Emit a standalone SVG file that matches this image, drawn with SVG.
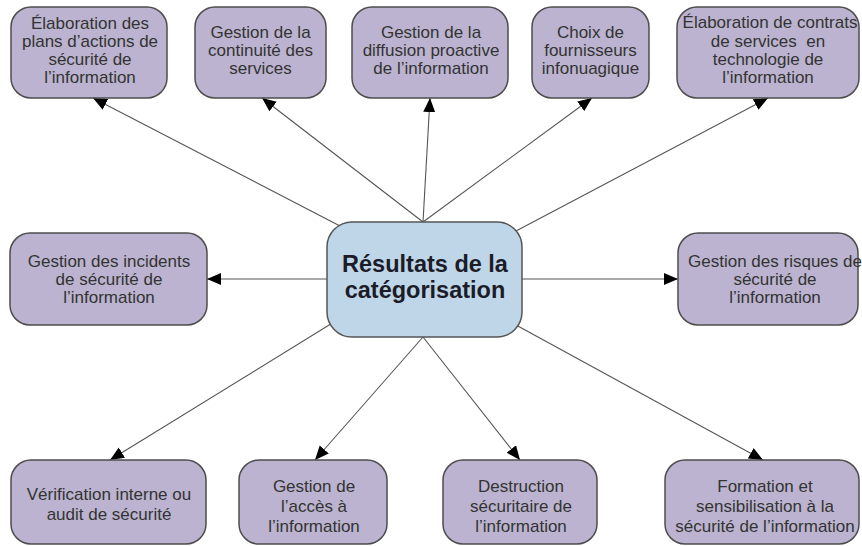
<svg xmlns="http://www.w3.org/2000/svg" width="862" height="546" viewBox="0 0 862 546">
<defs>
<marker id="arr" markerUnits="userSpaceOnUse" markerWidth="15" markerHeight="13" refX="14" refY="6" orient="auto">
<path d="M0,0 L14,6 L0,12 z" fill="#000"/>
</marker>
<style>
.n{fill:#bbb3cf;stroke:#4d4d4d;stroke-width:1.5}
.c{fill:#bed6e8;stroke:#555;stroke-width:1.5}
.t{font-family:"Liberation Sans",Arial,sans-serif;font-size:17px;fill:#333;text-anchor:middle}
.ct{font-family:"Liberation Sans",Arial,sans-serif;font-size:23.5px;font-weight:bold;fill:#1c1c28;text-anchor:middle}
.e{stroke:#555;stroke-width:1.1;fill:none;marker-end:url(#arr)}
</style>
</defs>
<rect width="862" height="546" fill="#fff"/>
<g id="connectors">
<line class="e" x1="340" y1="226" x2="93" y2="98"/>
<line class="e" x1="423" y1="222" x2="262" y2="98"/>
<line class="e" x1="423" y1="222" x2="430" y2="98"/>
<line class="e" x1="423" y1="222" x2="592" y2="98"/>
<line class="e" x1="516" y1="231" x2="768" y2="98"/>
<line class="e" x1="327" y1="279" x2="207" y2="279"/>
<line class="e" x1="522" y1="279" x2="678" y2="279"/>
<line class="e" x1="334" y1="322" x2="110" y2="460"/>
<line class="e" x1="423" y1="337" x2="315" y2="460"/>
<line class="e" x1="423" y1="337" x2="520" y2="460"/>
<line class="e" x1="516" y1="325" x2="763" y2="460"/>
</g>
<g id="center">
<rect class="c" x="327" y="222" width="195" height="115" rx="25"/>
<text class="ct" x="425" y="272">Résultats de la</text>
<text class="ct" x="425" y="298">catégorisation</text>
</g>
<g id="n1">
<rect class="n" x="11" y="7" width="156" height="91" rx="20"/>
<text class="t" x="90" y="29">Élaboration des</text>
<text class="t" x="90" y="47">plans d’actions de</text>
<text class="t" x="90" y="65">sécurité de</text>
<text class="t" x="90" y="83">l’information</text>
</g>
<g id="n2">
<rect class="n" x="195" y="7" width="131" height="91" rx="20"/>
<text class="t" x="260.5" y="38">Gestion de la</text>
<text class="t" x="260.5" y="56">continuité des</text>
<text class="t" x="260.5" y="74">services</text>
</g>
<g id="n3">
<rect class="n" x="352" y="7" width="156" height="91" rx="20"/>
<text class="t" x="431" y="38">Gestion de la</text>
<text class="t" x="431" y="56">diffusion proactive</text>
<text class="t" x="431" y="74">de l’information</text>
</g>
<g id="n4">
<rect class="n" x="532" y="7" width="117" height="91" rx="20"/>
<text class="t" x="590.5" y="38">Choix de</text>
<text class="t" x="590.5" y="56">fournisseurs</text>
<text class="t" x="590.5" y="74">infonuagique</text>
</g>
<g id="n5">
<rect class="n" x="677" y="7" width="182" height="91" rx="20"/>
<text class="t" x="770" y="28">Élaboration de contrats</text>
<text class="t" x="768" y="47">de services&#160; en</text>
<text class="t" x="768" y="65">technologie de</text>
<text class="t" x="768" y="83">l’information</text>
</g>
<g id="n6">
<rect class="n" x="10" y="233" width="197" height="92" rx="20"/>
<text class="t" x="109" y="267">Gestion des incidents</text>
<text class="t" x="109" y="285">de sécurité de</text>
<text class="t" x="109" y="303">l’information</text>
</g>
<g id="n7">
<rect class="n" x="678" y="233" width="180" height="92" rx="20"/>
<text class="t" x="775" y="267">Gestion des risques de</text>
<text class="t" x="775" y="285">sécurité de</text>
<text class="t" x="775" y="303">l’information</text>
</g>
<g id="n8">
<rect class="n" x="11" y="460" width="195" height="84" rx="20"/>
<text class="t" x="109" y="500">Vérification interne ou</text>
<text class="t" x="109" y="520">audit de sécurité</text>
</g>
<g id="n9">
<rect class="n" x="239" y="460" width="148" height="84" rx="20"/>
<text class="t" x="314" y="492">Gestion de</text>
<text class="t" x="314" y="512">l’accès à</text>
<text class="t" x="314" y="532">l’information</text>
</g>
<g id="n10">
<rect class="n" x="443" y="460" width="154" height="84" rx="20"/>
<text class="t" x="521" y="492">Destruction</text>
<text class="t" x="521" y="512">sécuritaire de</text>
<text class="t" x="521" y="532">l’information</text>
</g>
<g id="n11">
<rect class="n" x="665" y="460" width="194" height="84" rx="20"/>
<text class="t" x="765" y="492">Formation et</text>
<text class="t" x="765" y="512">sensibilisation à la</text>
<text class="t" x="765" y="532">sécurité de l’information</text>
</g>
</svg>
